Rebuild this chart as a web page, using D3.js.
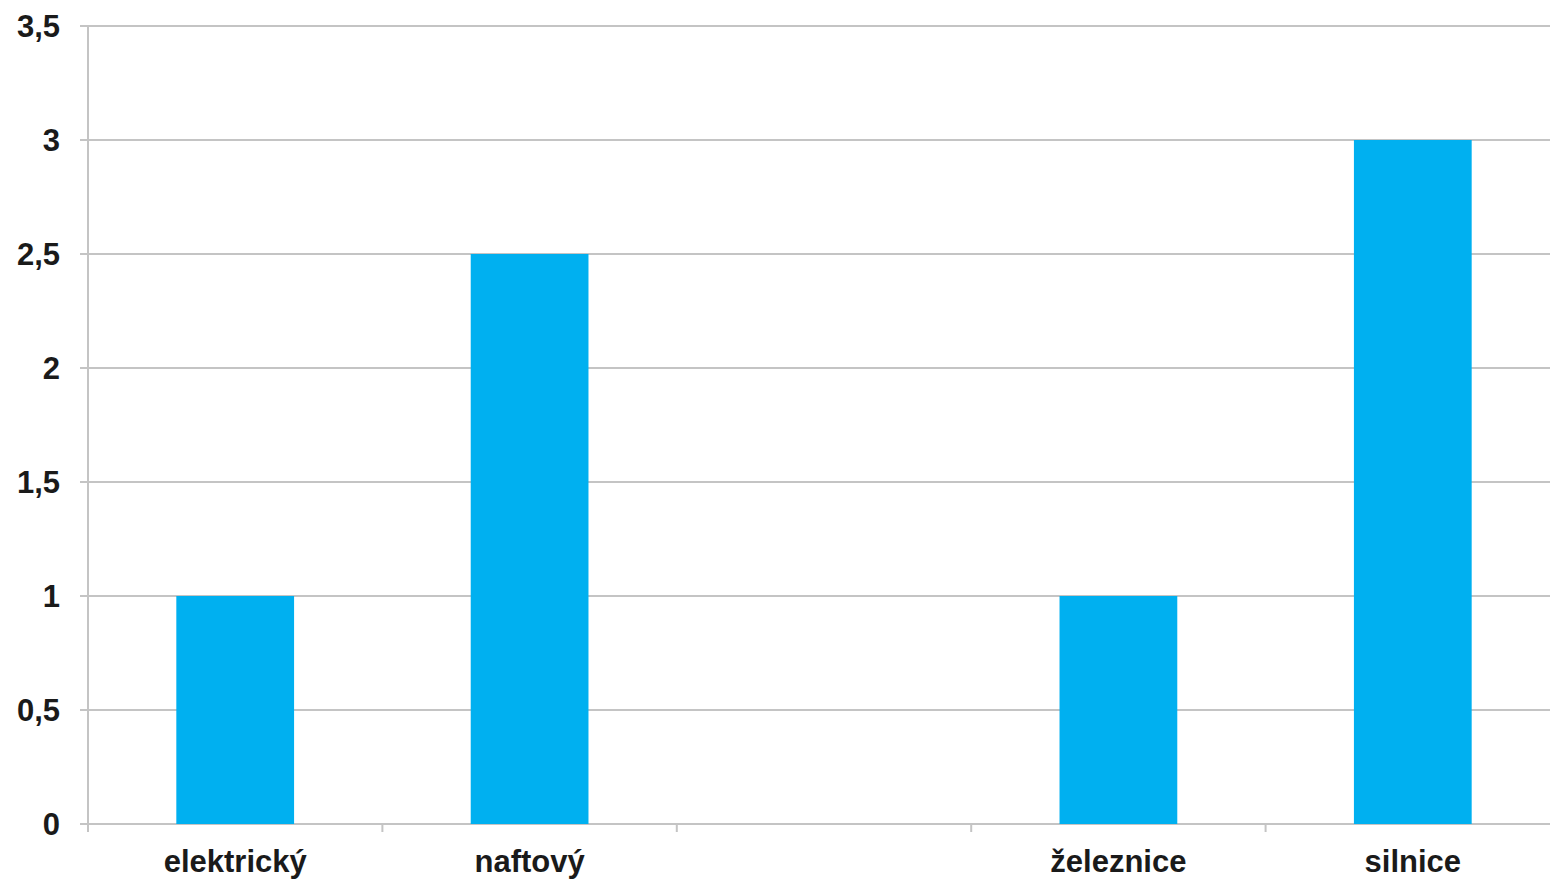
<!DOCTYPE html>
<html><head><meta charset="utf-8">
<script src="https://cdn.jsdelivr.net/npm/d3@7"></script>
<style>html,body{margin:0;padding:0;background:#fff;overflow:hidden}</style>
</head><body>
<svg id="c" width="1550" height="879"></svg>
<script>
const categories = ["elektrický", "naftový", "", "železnice", "silnice"];
const values = [1, 2.5, null, 1, 3];
const yTicks = [0, 0.5, 1, 1.5, 2, 2.5, 3, 3.5];

const svg = d3.select("#c");
const mLeft = 88, mRight = 1560, mTop = 26, mBottom = 824;
const font = "'Liberation Sans', Arial, sans-serif";
const gridColor = "#c4c4c4";

const x = d3.scaleBand().domain(categories).range([mLeft, mRight]).paddingInner(0).paddingOuter(0);
const y = d3.scaleLinear().domain([0, 3.5]).range([mBottom, mTop]);
const fmt = d => String(d).replace(".", ",");

// gridlines
svg.append("g").selectAll("line").data(yTicks).join("line")
  .attr("x1", mLeft - 8).attr("x2", mRight)
  .attr("y1", d => y(d)).attr("y2", d => y(d))
  .attr("stroke", gridColor).attr("stroke-width", 2);

// y axis line
svg.append("line").attr("x1", mLeft).attr("x2", mLeft).attr("y1", mTop).attr("y2", mBottom + 8)
  .attr("stroke", gridColor).attr("stroke-width", 2);

// x tick marks at category boundaries
const bounds = categories.map(c => x(c)).concat([mRight]);
svg.append("g").selectAll("line").data(bounds).join("line")
  .attr("x1", d => d).attr("x2", d => d).attr("y1", mBottom).attr("y2", mBottom + 8)
  .attr("stroke", gridColor).attr("stroke-width", 2);

// bars
const data = categories.map((c, i) => ({c, v: values[i]})).filter(d => d.v != null);
const bw = x.bandwidth() * 0.4;
svg.append("g").selectAll("rect").data(data).join("rect")
  .attr("x", d => x(d.c) + (x.bandwidth() - bw) / 2)
  .attr("width", bw)
  .attr("y", d => y(d.v))
  .attr("height", d => y(0) - y(d.v))
  .attr("fill", "#00b0f0");

// y labels
svg.append("g").selectAll("text").data(yTicks).join("text")
  .attr("x", 60).attr("y", d => y(d)).attr("dy", "0.35em")
  .attr("text-anchor", "end")
  .style("font-family", font).style("font-size", "31px").style("font-weight", "bold").attr("fill", "#1a1a1a")
  .text(fmt);

// x labels
svg.append("g").selectAll("text").data(categories).join("text")
  .attr("x", d => x(d) + x.bandwidth() / 2).attr("y", 872)
  .attr("text-anchor", "middle")
  .style("font-family", font).style("font-size", "31px").style("font-weight", "bold").attr("fill", "#1a1a1a")
  .text(d => d);
</script>
</body></html>
